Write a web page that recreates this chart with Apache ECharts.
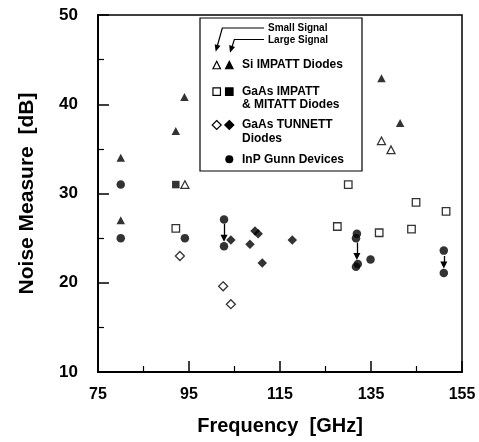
<!DOCTYPE html>
<html><head><meta charset="utf-8">
<script src="https://cdn.jsdelivr.net/npm/echarts@6/dist/echarts.min.js"></script>
<style>html,body{margin:0;padding:0;background:#fff}#c{width:479px;height:442px}</style>
</head><body><div id="c"></div>
<script>
// Axis ranges / ticks
const xMin = 75, xMax = 155, xStep = 20;
const yMin = 10, yMax = 50, yStep = 10;

// Data [frequency GHz, noise measure dB]
const siImpattLarge  = [[80,34],[80,27],[92.1,37],[94,40.8],[137.3,42.9],[141.4,37.9]];
const siImpattSmall  = [[94.1,31],[137.3,35.9],[139.4,34.9]];
const gaasImpattLarge = [[92.1,31]];
const gaasImpattSmall = [[92.1,26.1],[127.6,26.3],[130,31],[136.8,25.6],[143.9,26],[144.9,29],[151.5,28]];
const tunnettLarge   = [[104.2,24.8],[108.4,24.3],[109.5,25.8],[110.2,25.5],[111.1,22.2],[117.7,24.8]];
const tunnettSmall   = [[93,23],[102.5,19.6],[104.2,17.6]];
const inpGunn        = [[80,31],[80,25],[94.1,25],[102.7,27.1],[102.7,24.1],[131.9,25.5],[131.7,25],[131.7,21.8],[132.1,22.1],[134.9,22.6],[151,23.6],[151,21.1]];
// Arrows: [frequency, from dB, to dB]
const arrows = [[102.7,26.6,25.0],[131.9,24.5,22.95],[151,23.0,22.0]];

const FONT = '"Liberation Sans", Arial, Helvetica, sans-serif';
const filled = {color:'#000'};
const open = {color:'#fff', borderColor:'#000', borderWidth:1.3};

function sc(name, data, symbol, size, style, extra){
  return Object.assign({type:'scatter', name, data, symbol, symbolSize:size, itemStyle:style, z:3, silent:true}, extra||{});
}

const chart = echarts.init(document.getElementById('c'), null, {renderer:'canvas'});

const legendBox = {x:200, y:18, w:162, h:153};
function tri(cx,cy,s,fill){return {type:'polygon', shape:{points:[[cx,cy-s/2],[cx+s/2,cy+s/2],[cx-s/2,cy+s/2]]}, style:{fill:fill?'#000':'#fff', stroke:'#000', lineWidth:1.2}, z:101};}
function sq(cx,cy,s,fill){return {type:'rect', shape:{x:cx-s/2,y:cy-s/2,width:s,height:s}, style:{fill:fill?'#000':'#fff', stroke:'#000', lineWidth:1.2}, z:101};}
function dia(cx,cy,s,fill){return {type:'polygon', shape:{points:[[cx,cy-s/2],[cx+s/2,cy],[cx,cy+s/2],[cx-s/2,cy]]}, style:{fill:fill?'#000':'#fff', stroke:'#000', lineWidth:1.2}, z:101};}
function txt(t,x,y,size){return {type:'text', x:x, y:y, style:{text:t, font:'bold '+size+'px '+FONT, fill:'#000', align:'left', verticalAlign:'middle'}, z:101};}

const graphic = [
  {type:'rect', shape:{x:legendBox.x,y:legendBox.y,width:legendBox.w,height:legendBox.h}, style:{fill:'#fff', stroke:'#000', lineWidth:1.2}, z:100},
  {type:'polyline', shape:{points:[[264,28],[222.3,28],[217.3,46]]}, style:{stroke:'#000', lineWidth:1.2, fill:null}, z:101},
  {type:'polygon', shape:{points:[[215.7,51.7],[220.5,45.7],[214.7,44.2]]}, style:{fill:'#000'}, z:101},
  {type:'polyline', shape:{points:[[264,39.5],[234.3,39.5],[232.2,46.5]]}, style:{stroke:'#000', lineWidth:1.2, fill:null}, z:101},
  {type:'polygon', shape:{points:[[230,52.7],[235,46.9],[229.2,45.1]]}, style:{fill:'#000'}, z:101},
  txt('Small Signal',268,28,10),
  txt('Large Signal',268,40,10),
  tri(216.7,65,7.5,false), tri(229.3,65,7.5,true), txt('Si IMPATT Diodes',242,65,12),
  sq(216.7,91.7,7.5,false), sq(229.3,91.7,7.5,true), txt('GaAs IMPATT',242,91.7,12), txt('& MITATT Diodes',242,105,12),
  dia(216.7,125,9,false), dia(229.3,125,9,true), txt('GaAs TUNNETT',242,125,12), txt('Diodes',242,138.5,12),
  {type:'circle', shape:{cx:229.3, cy:159.3, r:4}, style:{fill:'#000'}, z:101}, txt('InP Gunn Devices',242,159.3,12)
];

const axisCommon = {
  type:'value',
  splitLine:{show:false},
  axisLine:{show:true, lineStyle:{color:'#000', width:2}},
  axisTick:{show:true, inside:true, length:11, lineStyle:{color:'#000', width:1.5}},
  minorTick:{show:true, splitNumber:2, length:6, lineStyle:{color:'#000', width:1.2}},
  axisLabel:{color:'#000', fontFamily:FONT, fontWeight:'bold', fontSize:16},
  nameLocation:'middle',
  nameTextStyle:{color:'#000', fontFamily:FONT, fontWeight:'bold', fontSize:20}
};

chart.setOption({
  animation:false,
  backgroundColor:'#fff',
  grid:{left:98, right:17, top:15, bottom:70, show:true, borderColor:'#000', borderWidth:1.5, backgroundColor:'transparent'},
  xAxis:Object.assign({}, axisCommon, {min:xMin, max:xMax, interval:xStep, name:'Frequency  [GHz]', nameGap:44,
    axisLabel:Object.assign({}, axisCommon.axisLabel, {margin:15})}),
  yAxis:Object.assign({}, axisCommon, {min:yMin, max:yMax, interval:yStep, name:'Noise Measure  [dB]', nameGap:60,
    nameTextStyle:Object.assign({}, axisCommon.nameTextStyle, {fontSize:21}),
    axisLabel:Object.assign({}, axisCommon.axisLabel, {margin:20, fontSize:17})}),
  graphic:graphic,
  series:[
    sc('Si IMPATT large', siImpattLarge, 'triangle', [8.5,8], filled),
    sc('Si IMPATT small', siImpattSmall, 'triangle', [8,7.5], open),
    sc('GaAs IMPATT large', gaasImpattLarge, 'rect', 7.5, filled),
    sc('GaAs IMPATT small', gaasImpattSmall, 'rect', 7.5, open),
    sc('TUNNETT large', tunnettLarge, 'diamond', 9.5, filled),
    sc('TUNNETT small', tunnettSmall, 'diamond', 9, open),
    sc('InP Gunn', inpGunn, 'circle', 8.5, filled, {
      markLine:{silent:true, animation:false, symbol:['none','triangle'], symbolSize:7,
        lineStyle:{color:'#000', width:1.3, type:'solid'}, itemStyle:{color:'#000'}, label:{show:false},
        emphasis:{disabled:true},
        data: arrows.map(a => [{coord:[a[0],a[1]]},{coord:[a[0],a[2]]}])}
    })
  ]
});
</script></body></html>
